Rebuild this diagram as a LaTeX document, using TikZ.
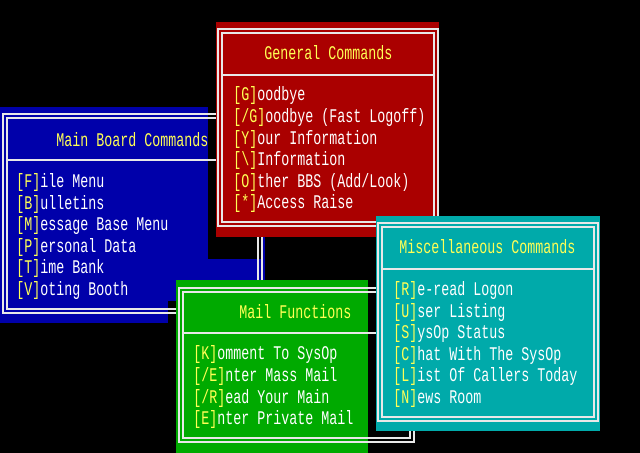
\documentclass[tikz,border=0pt]{standalone}
\usepackage{fontspec}
\setmonofont{Liberation Mono}
\definecolor{dosblue}{HTML}{0000AA}
\definecolor{dosred}{HTML}{AA0000}
\definecolor{dosgreen}{HTML}{00AA00}
\definecolor{doscyan}{HTML}{00AAAA}
\definecolor{dosyellow}{HTML}{FFFF55}
\definecolor{dosline}{HTML}{E8E8E8}
\newcommand{\cmd}[2]{\scalebox{1}[1.45]{\textcolor{dosyellow}{[#1]}#2}}
\newcommand{\tall}[1]{\scalebox{1}[1.45]{#1}}
\tikzset{
  frame/.style={draw=dosline, line width=1.1pt},
  title/.style={anchor=west, text=dosyellow, inner sep=0pt, font=\ttfamily\fontsize{10pt}{12pt}\selectfont},
  entry/.style={anchor=west, text=white, inner sep=0pt, font=\ttfamily\fontsize{10pt}{12pt}\selectfont},
}
\begin{document}
\begin{tikzpicture}[x=0.75pt, y=-0.75pt]
  \useasboundingbox[fill=black] (0,0) rectangle (640,453);
  %Main board window
  \fill[dosblue] (0,107) rectangle (265,323);
  \fill[black] (208,100) rectangle (263,259);
  \fill[black] (168,301) rectangle (176,323);
  \draw[frame] (3,114) rectangle (262,313);
  \draw[frame] (7,118) rectangle (258,309);
  \draw[frame] (7,160) -- (258,160);
  \node[title] (mbtitle) at (56,140) {\tall{Main Board Commands}};
  \foreach \k/\t [count=\i from 0] in {F/ile Menu, B/ulletins, M/essage Base Menu, P/ersonal Data, T/ime Bank, V/oting Booth}
    \node[entry] (mb\i) at (16,183+21.5*\i) {\cmd{\k}{\t}};
  %General window
  \fill[dosred] (216,22) rectangle (439,237);
  \draw[frame] (218,29) rectangle (438,226);
  \draw[frame] (222,33) rectangle (434,222);
  \draw[frame] (222,75) -- (434,75);
  \node[title] (gctitle) at (264,53) {\tall{General Commands}};
  \foreach \k/\t [count=\i from 0] in {G/oodbye, {/G}/{oodbye (Fast Logoff)}, Y/our Information, \textbackslash/Information, O/{ther BBS (Add/Look)}, */Access Raise}
    \node[entry] (gc\i) at (233,96+21.6*\i) {\cmd{\k}{\t}};
  %Mail window
  \fill[dosgreen] (176,280) rectangle (368,453);
  \draw[frame] (179,288) rectangle (414,442);
  \draw[frame] (183,292) rectangle (410,438);
  \draw[frame] (183,333) -- (410,333);
  \node[title] (mftitle) at (239,312) {\tall{Mail Functions}};
  \foreach \k/\t [count=\i from 0] in {K/omment To SysOp, {/E}/{nter Mass Mail}, {/R}/{ead Your Main}, E/nter Private Mail}
    \node[entry] (mf\i) at (193,355+21.6*\i) {\cmd{\k}{\t}};
  %Misc window
  \fill[doscyan] (376,216) rectangle (600,431);
  \draw[frame] (378,223) rectangle (598,421);
  \draw[frame] (382,227) rectangle (594,417);
  \draw[frame] (382,269) -- (594,269);
  \node[title] (mctitle) at (399,247) {\tall{Miscellaneous Commands}};
  \foreach \k/\t [count=\i from 0] in {R/e-read Logon, U/ser Listing, S/ysOp Status, C/hat With The SysOp, L/ist Of Callers Today, N/ews Room}
    \node[entry] (mc\i) at (393,291+21.5*\i) {\cmd{\k}{\t}};
\end{tikzpicture}
\end{document}
